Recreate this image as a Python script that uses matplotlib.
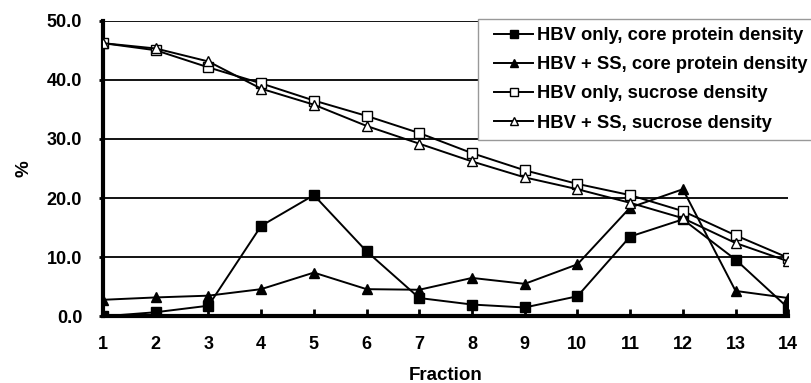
import matplotlib
matplotlib.use("Agg")
import matplotlib.pyplot as plt
from matplotlib.legend_handler import HandlerLine2D

plt.rcParams['font.family'] = ['Liberation Sans', 'DejaVu Sans']
plt.rcParams['font.weight'] = 'bold'

fractions = list(range(1, 15))
hbv_core = [0.0, 0.7, 1.8, 15.3, 20.5, 11.0, 3.1, 2.0, 1.5, 3.4, 13.5, 16.4, 9.6, 1.4]
ss_core = [2.8, 3.2, 3.5, 4.6, 7.4, 4.6, 4.5, 6.5, 5.5, 8.8, 18.4, 21.5, 4.3, 3.1]
hbv_sucrose = [46.2, 45.0, 42.1, 39.4, 36.5, 33.9, 31.0, 27.6, 24.7, 22.4, 20.5, 17.8, 13.7, 9.9]
ss_sucrose = [46.2, 45.3, 43.1, 38.5, 35.8, 32.2, 29.2, 26.2, 23.5, 21.5, 19.2, 16.6, 12.4, 9.3]
labels = ["HBV only, core protein density", "HBV + SS, core protein density",
          "HBV only, sucrose density", "HBV + SS, sucrose density"]

fig = plt.figure(figsize=(8.11, 3.83), dpi=100)
ax = fig.add_axes([0.127, 0.174, 0.845, 0.772])

ax.plot(fractions, hbv_core, color='black', lw=1.4, marker='s', ms=6.5,
        mfc='black', mec='black', label=labels[0], zorder=3)
ax.plot(fractions, ss_core, color='black', lw=1.4, marker='^', ms=7.5,
        mfc='black', mec='black', label=labels[1], zorder=3)
ax.plot(fractions, hbv_sucrose, color='black', lw=1.4, marker='s', ms=7,
        mfc='white', mec='black', label=labels[2], zorder=3)
ax.plot(fractions, ss_sucrose, color='black', lw=1.4, marker='^', ms=7.5,
        mfc='white', mec='black', label=labels[3], zorder=3)

ax.set_xlim(1, 14)
ax.set_ylim(0, 50)
ax.set_xticks(fractions)
ax.set_yticks([0, 10, 20, 30, 40, 50])
ax.set_yticklabels(["0.0", "10.0", "20.0", "30.0", "40.0", "50.0"])
for y in [10, 20, 30, 40, 50]:
    ax.axhline(y, color='black', lw=1.3, zorder=1)

ax.spines['top'].set_visible(False)
ax.spines['right'].set_visible(False)
ax.spines['left'].set_linewidth(3)
ax.spines['bottom'].set_linewidth(3)
ax.tick_params(axis='x', direction='in', length=5, width=2, labelsize=13, pad=14)
ax.tick_params(axis='y', direction='out', length=3, width=2, labelsize=13, pad=12)
for t in ax.get_xticklabels() + ax.get_yticklabels():
    t.set_fontweight('bold')

ax.set_xlabel("Fraction", fontsize=13.5, fontweight='bold', labelpad=10)
ax.set_ylabel("%", fontsize=13.5, fontweight='bold', labelpad=10)

leg = fig.legend(loc='upper left', bbox_to_anchor=(478 / 811, 1 - 19 / 383),
                 frameon=True, fancybox=False, borderpad=0.45,
                 handlelength=2.57, handletextpad=0.22, labelspacing=0.66,
                 borderaxespad=0, markerscale=0.8,
                 handler_map={plt.Line2D: HandlerLine2D(xpad=0.44)},
                 prop={'weight': 'bold', 'size': 13.2})
leg.get_frame().set_edgecolor('#999999')
leg.get_frame().set_linewidth(1)
leg.get_frame().set_alpha(1)

fig.savefig("out.png", dpi=100)
